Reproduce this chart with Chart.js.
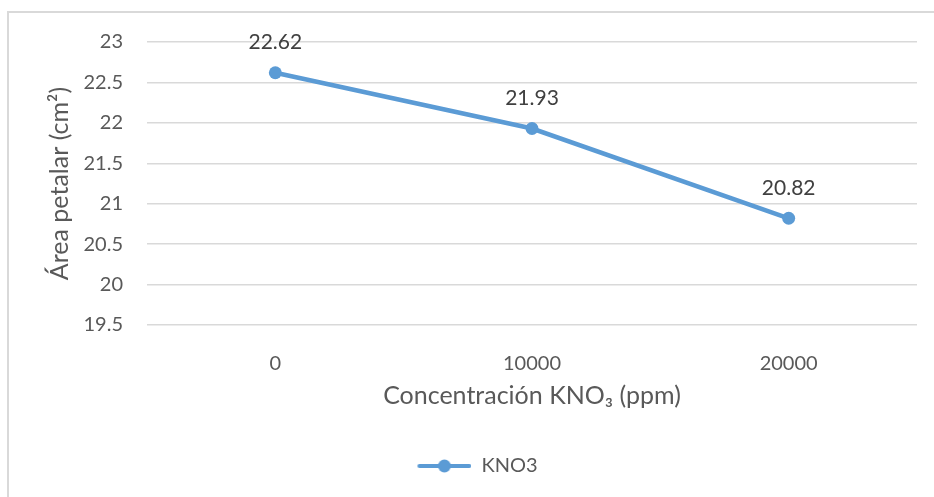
<!DOCTYPE html>
<html>
<head>
<meta charset="utf-8">
<script src="https://cdn.jsdelivr.net/npm/chart.js@4/dist/chart.umd.min.js"></script>
<style>
  html, body { margin: 0; padding: 0; background: #fff; }
  #wrap { position: relative; width: 934px; height: 497px; overflow: hidden; }
  #frame { position: absolute; left: 7px; top: 11px; width: 1000px; height: 600px;
           border-left: 2px solid #d9d9d9; border-top: 2px solid #d9d9d9; }
  canvas { position: absolute; left: 0; top: 0; }
</style>
</head>
<body>
<div id="wrap">
  <div id="frame"></div>
  <canvas id="chart" width="934" height="497"></canvas>
</div>
<script>
const categories = ['0', '10000', '20000'];
const kno3Values = [22.62, 21.93, 20.82];
const yTicks = [19.5, 20, 20.5, 21, 21.5, 22, 22.5, 23];

const blue = '#5B9BD5';
const font = 'Lato, "Open Sans", sans-serif';

// legend marker: line with a dot in the middle (blank space on the left)
const iconPad = 24;
const legendIcon = document.createElement('canvas');
legendIcon.width = iconPad + 54;
legendIcon.height = 14;
(function () {
    const c = legendIcon.getContext('2d');
    c.strokeStyle = blue;
    c.lineWidth = 4;
    c.lineCap = 'round';
    c.beginPath();
    c.moveTo(iconPad + 2, 7);
    c.lineTo(iconPad + 52, 7);
    c.stroke();
    c.fillStyle = blue;
    c.beginPath();
    c.arc(iconPad + 27, 7, 6.5, 0, Math.PI * 2);
    c.fill();
})();

// value labels above each point
const valueLabels = {
    id: 'valueLabels',
    afterDatasetsDraw(chart) {
        const ctx = chart.ctx;
        const meta = chart.getDatasetMeta(0);
        ctx.save();
        ctx.fillStyle = '#404040';
        ctx.font = '21px ' + font;
        ctx.textAlign = 'center';
        ctx.textBaseline = 'middle';
        meta.data.forEach((pt, i) => {
            ctx.fillText(kno3Values[i].toFixed(2), pt.x, pt.y - 30);
        });
        ctx.restore();
    }
};

new Chart(document.getElementById('chart'), {
    type: 'line',
    data: {
        labels: categories,
        datasets: [{
            label: 'KNO3',
            data: kno3Values,
            borderColor: blue,
            backgroundColor: blue,
            borderWidth: 4.5,
            pointRadius: 6.5,
            pointHoverRadius: 6.5,
            pointBackgroundColor: blue,
            pointBorderWidth: 0,
            tension: 0
        }]
    },
    options: {
        responsive: false,
        animation: false,
        layout: { padding: { left: 14, right: 17, top: 42, bottom: 11 } },
        plugins: {
            tooltip: { enabled: false },
            legend: {
                position: 'bottom',
                labels: {
                    usePointStyle: true,
                    pointStyleWidth: iconPad + 54,
                    color: '#595959',
                    font: { family: font, size: 20 },
                    boxHeight: 14,
                    padding: 10,
                    generateLabels: () => [{
                        text: 'KNO3',
                        pointStyle: legendIcon,
                        fontColor: '#595959',
                        datasetIndex: 0
                    }]
                }
            }
        },
        scales: {
            x: {
                offset: true,
                grid: { display: false },
                border: { display: false },
                ticks: { color: '#595959', font: { family: font, size: 20 }, padding: 19 },
                title: {
                    display: true,
                    text: 'Concentración KNO₃ (ppm)',
                    color: '#595959',
                    font: { family: font, size: 25 },
                    padding: { top: 14, bottom: 35 }
                },
                afterFit: (scale) => { scale.height = 121; }
            },
            y: {
                min: 19.5,
                max: 23,
                afterBuildTicks: (scale) => { scale.ticks = yTicks.map(v => ({ value: v })); },
                grid: { color: '#d9d9d9', lineWidth: 1.5, drawTicks: false },
                border: { display: false },
                ticks: {
                    color: '#595959',
                    font: { family: font, size: 20 },
                    padding: 24,
                    callback: (v) => String(v)
                },
                title: {
                    display: true,
                    text: 'Área petalar (cm²)',
                    color: '#595959',
                    font: { family: font, size: 25 },
                    padding: { top: 31, bottom: 4 }
                },
                afterFit: (scale) => { scale.width = 147 - 14; }
            }
        }
    },
    plugins: [valueLabels]
});
</script>
</body>
</html>
